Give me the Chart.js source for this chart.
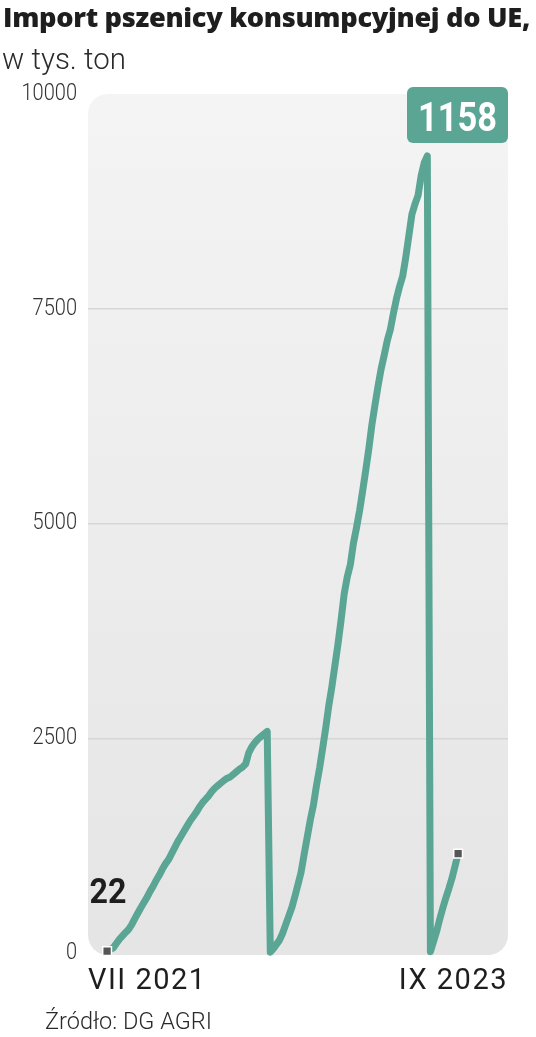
<!DOCTYPE html>
<html lang="pl">
<head>
<meta charset="utf-8">
<title>Import pszenicy konsumpcyjnej do UE</title>
<script src="https://cdn.jsdelivr.net/npm/chart.js@4.4.1/dist/chart.umd.min.js"></script>
<style>
    html, body { margin: 0; padding: 0; background: #fff; }
    body { width: 536px; height: 1037px; position: relative; overflow: hidden; font-family: Roboto, sans-serif; color: #222; }
    .txt { position: absolute; white-space: nowrap; transform-origin: left top; line-height: 1; }
    #title { left: 3px; top: 4px; font-family: "Open Sans", Roboto, sans-serif; font-weight: 800; font-size: 26px; color: #1e1e1e; letter-spacing: -0.3px; }
    #subtitle { left: 2px; top: 45px; font-weight: 300; font-size: 29px; color: #2a2a2a; }
    #source { left: 45px; top: 1010px; font-weight: 300; font-size: 23.5px; color: #2a2a2a; }
    #chart-box { position: absolute; left: 0; top: 0; width: 536px; height: 1037px; }
</style>
</head>
<body>
<div id="chart-box"><canvas id="import-chart"></canvas></div>
<div class="txt" id="title">Import pszenicy konsumpcyjnej do UE,</div>
<div class="txt" id="subtitle">w tys. ton</div>
<div class="txt" id="source">Źródło: DG AGRI</div>

<script>
// ── Data: cumulative weekly imports, thousand tonnes ─────────
// marketing year 2021/22 (from VII 2021)
const season2021 = [
    22, 40, 60, 110, 160, 200, 240, 275, 330, 400,
    466, 530, 590, 650, 720, 780, 850, 910, 980, 1040,
    1090, 1160, 1230, 1300, 1360, 1420, 1480, 1540, 1590, 1640,
    1700, 1750, 1790, 1830, 1880, 1920, 1950, 1980, 2010, 2035,
    2050, 2080, 2110, 2140, 2165, 2200, 2330, 2400, 2450, 2490,
    2520, 2550, 2580
];
// marketing year 2022/23
const season2022 = [
    10, 50, 100, 150, 230, 330, 430, 530, 660, 800,
    940, 1150, 1350, 1550, 1720, 1950, 2150, 2380, 2620, 2880,
    3100, 3350, 3600, 3880, 4180, 4380, 4520, 4770, 4950, 5150,
    5380, 5620, 5870, 6150, 6380, 6600, 6800, 6960, 7130, 7260,
    7450, 7620, 7760, 7880, 8100, 8350, 8600, 8720, 8820, 9050,
    9200, 9280
];
// marketing year 2023/24 (to IX 2023)
const season2023 = [15, 130, 250, 390, 520, 640, 750, 870, 1010, 1158];

const values = [...season2021, ...season2022, ...season2023];
const weeks = values.map((_, i) => i);
const yTickValues = [0, 2500, 5000, 7500, 10000];
const xTickLabels = ['VII 2021', 'IX 2023'];

const colors = {
    line: '#5aa594',
    marker: '#555555',
    grid: '#d6d6d6',
    tick: '#333333',
    label: '#1e1e1e',
    bgTop: '#f4f4f4',
    bgBottom: '#e5e5e5'
};

const lastIdx = values.length - 1;
// x range padded so the grey panel extends past the first/last week
const xMin = -6.2;
const xMax = lastIdx + 16.2;

/**
 * Stretch html titles to their measured widths in the reference
 */
function fitText(id, width) {
    const el = document.getElementById(id);
    const w = el.getBoundingClientRect().width;
    el.style.transform = `scaleX(${width / w})`;
}
fitText('title', 527);
fitText('subtitle', 124);
fitText('source', 167);

// grey rounded panel behind the plot (+ wider letter spacing for axis text)
const panelPlugin = {
    id: 'panel',
    beforeDraw(chart) {
        const { ctx, chartArea: { top, bottom, left, right } } = chart;
        const g = ctx.createLinearGradient(0, top, 0, bottom);
        g.addColorStop(0, colors.bgTop);
        g.addColorStop(1, colors.bgBottom);
        ctx.save();
        ctx.fillStyle = g;
        ctx.beginPath();
        ctx.roundRect(left, top, right - left, bottom - top + 2, 20);
        ctx.fill();
        ctx.restore();
        ctx.letterSpacing = '1.5px';
    }
};

// condensed y labels, first/last value labels
const labelsPlugin = {
    id: 'valueLabels',
    afterDraw(chart) {
        const { ctx, chartArea } = chart;
        const y = chart.scales.y;
        const meta = chart.getDatasetMeta(0);
        const first = meta.data[0];
        const last = meta.data[lastIdx];

        ctx.letterSpacing = '0px';
        ctx.save();
        // y tick labels
        ctx.fillStyle = colors.tick;
        ctx.font = '300 23px Roboto, sans-serif';
        ctx.textAlign = 'right';
        ctx.textBaseline = 'middle';
        y.ticks.forEach(t => {
            const py = y.getPixelForValue(t.value);
            ctx.save();
            ctx.translate(77, py);
            ctx.scale(0.87, 1);
            ctx.fillText(String(t.value), 0, 0);
            ctx.restore();
        });

        // first value
        ctx.fillStyle = colors.label;
        ctx.font = '700 35px Roboto, sans-serif';
        ctx.textAlign = 'center';
        ctx.textBaseline = 'alphabetic';
        ctx.save();
        ctx.translate(first.x + 1, 903);
        ctx.scale(0.92, 1);
        ctx.fillText(String(values[0]), 0, 0);
        ctx.restore();

        // last value in a box at the top
        const bw = 101, bh = 56;
        const bx = chartArea.right - bw;
        const by = chartArea.top - 7;
        ctx.fillStyle = colors.line;
        ctx.beginPath();
        ctx.roundRect(bx, by, bw, bh, 6);
        ctx.fill();
        ctx.fillStyle = '#ffffff';
        ctx.font = '700 40px Roboto, sans-serif';
        ctx.save();
        ctx.translate(bx + bw / 2, by + 44);
        ctx.scale(0.86, 1);
        ctx.fillText(String(values[lastIdx]), 0, 0);
        ctx.restore();
        ctx.restore();
    }
};

const importChart = new Chart(document.getElementById('import-chart'), {
    type: 'line',
    data: {
        labels: weeks,
        datasets: [{
            data: values,
            borderColor: colors.line,
            borderWidth: 7,
            borderJoinStyle: 'round',
            borderCapStyle: 'round',
            tension: 0,
            fill: false,
            clip: false,
            pointStyle: 'rect',
            pointRadius: ctx => (ctx.dataIndex === 0 || ctx.dataIndex === lastIdx) ? 6.2 : 0,
            pointBackgroundColor: colors.marker,
            pointBorderColor: '#ffffff',
            pointBorderWidth: 1.5,
            pointHoverRadius: 0
        }]
    },
    plugins: [panelPlugin, labelsPlugin],
    options: {
        responsive: true,
        maintainAspectRatio: false,
        animation: false,
        layout: { padding: { top: 94, right: 28, left: 0, bottom: 0 } },
        plugins: {
            legend: { display: false },
            tooltip: { enabled: false }
        },
        scales: {
            x: {
                type: 'linear',
                min: xMin,
                max: xMax,
                afterBuildTicks: axis => { axis.ticks = [{ value: xMin }, { value: xMax }]; },
                afterFit: axis => { axis.height = 84; },
                grid: { display: false },
                border: { display: false },
                ticks: {
                    align: 'inner',
                    padding: 3,
                    maxRotation: 0,
                    color: colors.label,
                    font: { family: 'Roboto', size: 29, weight: '400' },
                    callback: (v, i) => xTickLabels[i]
                }
            },
            y: {
                min: 0,
                max: 10000,
                afterBuildTicks: axis => { axis.ticks = yTickValues.map(v => ({ value: v })); },
                afterFit: axis => { axis.width = 88; },
                border: { display: false },
                grid: {
                    drawTicks: false,
                    lineWidth: 1.5,
                    color: ctx => (ctx.tick && ctx.tick.value > 0 && ctx.tick.value < 10000) ? colors.grid : 'rgba(0,0,0,0)'
                },
                ticks: { display: false }
            }
        }
    }
});
</script>
</body>
</html>
